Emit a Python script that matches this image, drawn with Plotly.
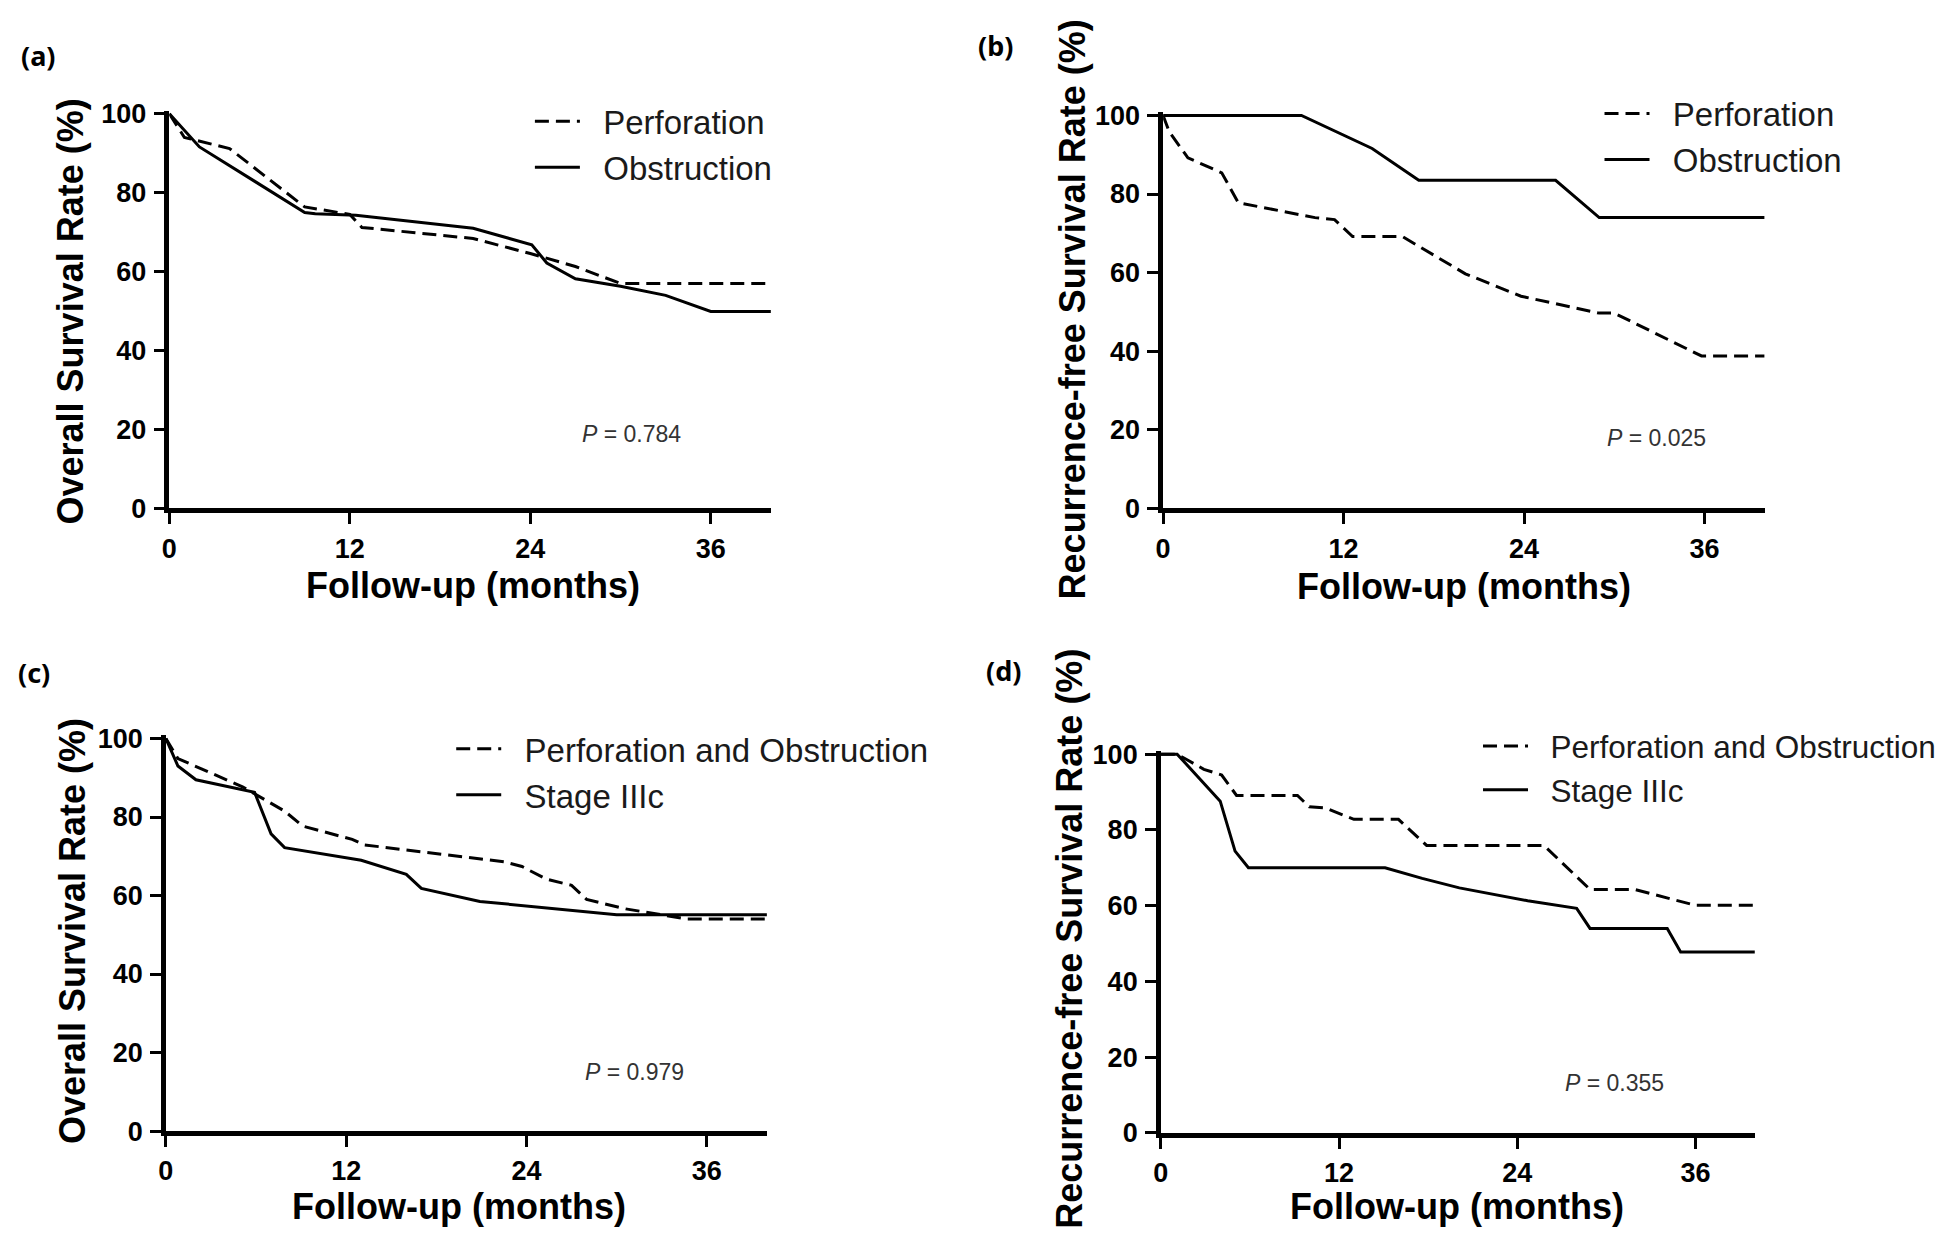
import plotly.graph_objects as go

W, H = 1960, 1233

# ---------------- data ----------------
# (a) Overall survival: Perforation vs Obstruction
a_perf_x = [0, 1, 4, 9, 12, 12.8, 20.2, 24, 27, 30, 40]
a_perf_y = [100, 94, 91.2, 76.4, 74.5, 71.2, 68.4, 64.6, 61.3, 57, 57]
a_obs_x = [0, 2, 9, 9.7, 12.4, 20.2, 24.1, 25.1, 27, 30, 33, 36, 40]
a_obs_y = [100, 91.6, 75, 74.7, 74.3, 71, 66.8, 62.2, 58.2, 56.3, 54, 49.9, 49.9]

# (b) Recurrence-free survival: Perforation vs Obstruction
b_perf_x = [0, 0.4, 1.65, 3.9, 5, 10.1, 11.4, 12.6, 15.9, 20.1, 23.8, 29, 30, 35.8, 40]
b_perf_y = [100, 95.9, 89.2, 85.4, 77.8, 74, 73.5, 69.2, 69.2, 59.7, 54, 49.7, 49.7, 38.8, 38.8]
b_obs_x = [0, 9.2, 13.9, 17, 26.1, 29, 40]
b_obs_y = [100, 100, 91.6, 83.5, 83.5, 74, 74]

# (c) Overall survival: Perforation and Obstruction vs Stage IIIc
c_po_x = [0, 0.8, 5.1, 7.9, 9.1, 12.4, 13.2, 17.6, 22.5, 23.7, 25.3, 27, 28, 30.6, 34.7, 40]
c_po_y = [100, 94.9, 87.7, 81.5, 77.7, 74.3, 72.9, 70.9, 68.6, 67.4, 64.2, 62.6, 59, 56.6, 54, 54]
c_st_x = [0, 0.8, 2, 5.9, 7, 7.9, 13, 16, 17, 20.9, 30, 40]
c_st_y = [100, 93, 89.5, 86.3, 75.7, 72.2, 69, 65.4, 61.8, 58.5, 55.1, 55.1]

# (d) Recurrence-free survival: Perforation and Obstruction vs Stage IIIc
d_po_x = [0, 1.1, 2.9, 4.1, 5.1, 9.2, 10, 11.1, 13, 16, 17.9, 25.8, 28.9, 31.9, 36, 40]
d_po_y = [100, 100, 96, 94.5, 89.1, 89.1, 86.1, 85.8, 82.8, 82.8, 75.9, 75.9, 64.3, 64.3, 60.1, 60.1]
d_st_x = [0, 1.1, 4, 5, 5.9, 15.1, 17.6, 20.1, 24.7, 28, 28.9, 34.1, 35, 40]
d_st_y = [100, 100, 87.6, 74.4, 70, 70, 67.2, 64.7, 61.3, 59.3, 54, 54, 47.8, 47.8]

x_ticks = [0, 12, 24, 36]
y_ticks = [0, 20, 40, 60, 80, 100]

panel_labels = ["(a)", "(b)", "(c)", "(d)"]
y_titles = ["Overall Survival Rate (%)", "Recurrence-free Survival Rate (%)",
            "Overall Survival Rate (%)", "Recurrence-free Survival Rate (%)"]
x_title = "Follow-up (months)"
p_values = ["0.784", "0.025", "0.979", "0.355"]
series_names = [("Perforation", "Obstruction"), ("Perforation", "Obstruction"),
                ("Perforation and Obstruction", "Stage IIIc"),
                ("Perforation and Obstruction", "Stage IIIc")]
series_data = [((a_perf_x, a_perf_y), (a_obs_x, a_obs_y)),
               ((b_perf_x, b_perf_y), (b_obs_x, b_obs_y)),
               ((c_po_x, c_po_y), (c_st_x, c_st_y)),
               ((d_po_x, d_po_y), (d_st_x, d_st_y))]

# ---------------- layout geometry (pixels) ----------------
# x0px, x40px, y0px, ytop_px (for y=100.8)
geom = [
    (154, 758, 500, 93.6),
    (1151.8, 1755.8, 500, 95.3),
    (150.5, 754, 1136, 731.8),
    (1149.5, 1746, 1138, 747.9),
]
label_pos = [(22, 37), (984, 27), (18, 668), (992, 666)]
ytitle_pos = [(55, 299), (1061, 297), (57, 932), (1057, 940)]
xtitle_pos = [(459, 579), (1454, 580), (445, 1213), (1447, 1213)]
pval_pos = [(618, 424), (1647, 428), (621, 1076), (1605, 1087)]
legend_pos = [(516, 76), (1590, 68), (437, 717), (1468, 715)]
legend_size = [33, 33, 33, 31.5]
PAD = "\u00a0\u00a0"

def px(xp):
    return xp / W

def py(yp):
    return 1 - yp / H

fig = go.Figure()

TICKFONT = dict(family="Liberation Sans, Arial, sans-serif", size=27, color="black", weight="bold")
TITLEFONT = dict(family="Liberation Sans, Arial, sans-serif", size=36, color="black", weight="bold")

layout = dict(
    width=W, height=H,
    margin=dict(l=0, r=0, t=0, b=0),
    paper_bgcolor="white", plot_bgcolor="white",
    showlegend=True,
)
annotations = []

for i in range(4):
    n = "" if i == 0 else str(i + 1)
    xa, ya = "x" + n, "y" + n
    leg = "legend" + n
    x0p, x40p, y0p, ytp = geom[i]
    (px_d, py_d), (sx_d, sy_d) = series_data[i]
    nm1, nm2 = series_names[i]
    fig.add_trace(go.Scatter(x=px_d, y=py_d, mode="lines", name=PAD + nm1,
                             line=dict(color="black", width=3, dash="14px,7px"),
                             xaxis=xa, yaxis=ya, legend=leg, hoverinfo="skip"))
    fig.add_trace(go.Scatter(x=sx_d, y=sy_d, mode="lines", name=PAD + nm2,
                             line=dict(color="black", width=3),
                             xaxis=xa, yaxis=ya, legend=leg, hoverinfo="skip"))
    axis_common = dict(showline=True, linewidth=4.5, linecolor="black", ticks="outside",
                       ticklen=11, tickwidth=3, tickcolor="black", showgrid=False,
                       zeroline=False, tickfont=TICKFONT, fixedrange=True)
    layout["xaxis" + n] = dict(axis_common, domain=[px(x0p), px(x40p)], range=[0, 40],
                               tickvals=x_ticks, ticktext=[str(v) for v in x_ticks],
                               anchor=ya, ticklabelstandoff=1)
    layout["yaxis" + n] = dict(axis_common, domain=[py(y0p), py(ytp)], range=[0, 100.8],
                               tickvals=y_ticks, ticktext=[str(v) for v in y_ticks],
                               anchor=xa, ticklabelstandoff=2)
    lx, ly = legend_pos[i]
    layout[leg] = dict(x=px(lx), y=py(ly), xanchor="left", yanchor="top",
                       font=dict(family="Liberation Sans, Arial, sans-serif",
                                 size=legend_size[i], color="#1a1a1a"),
                       bgcolor="rgba(0,0,0,0)", borderwidth=0,
                       itemwidth=45, tracegroupgap=0)
    # panel label
    annotations.append(dict(text="<b>" + panel_labels[i] + "</b>", x=px(label_pos[i][0]),
                            y=py(label_pos[i][1]), xref="paper", yref="paper",
                            showarrow=False, xanchor="center", yanchor="middle",
                            font=dict(family="Noto Sans, sans-serif", size=27, color="black")))
    # axis titles
    annotations.append(dict(text=x_title, x=px(xtitle_pos[i][0]), y=py(xtitle_pos[i][1]),
                            xref="paper", yref="paper", showarrow=False,
                            xanchor="center", yanchor="middle", font=TITLEFONT))
    annotations.append(dict(text=y_titles[i], x=px(ytitle_pos[i][0]), y=py(ytitle_pos[i][1]),
                            xref="paper", yref="paper", showarrow=False, textangle=-90,
                            xanchor="center", yanchor="middle", font=TITLEFONT))
    # P value
    annotations.append(dict(text="<i>P</i> = " + p_values[i], x=px(pval_pos[i][0]),
                            y=py(pval_pos[i][1]), xref="paper", yref="paper",
                            showarrow=False, xanchor="center", yanchor="middle",
                            font=dict(family="Liberation Sans, Arial, sans-serif",
                                      size=23, color="#333333")))

layout["annotations"] = annotations
fig.update_layout(**layout)
fig.write_html("out.html")
